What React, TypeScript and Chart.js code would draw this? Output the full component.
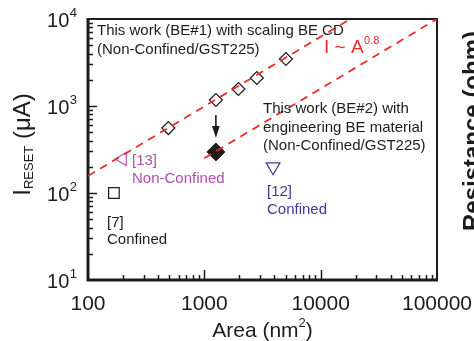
import React, { useEffect, useRef } from 'react';
import { Chart, registerables } from 'chart.js';

Chart.register(...registerables);

// ---- data ----
const beOneArea = [491, 1257, 1963, 2827, 5027];
const beOneCurrent = [558, 1172, 1568, 2098, 3467];
const beTwoArea = [1257];
const beTwoCurrent = [296];
const ref7Area = [167];
const ref7Current = [100];
const ref13Area = [198];
const ref13Current = [246];
const ref12Area = [3900];
const ref12Current = [200];
const fitOneArea = [100, 18000];
const fitOneCurrent = [157, 10000];
const fitTwoArea = [1000, 100000];
const fitTwoCurrent = [251, 10000];
const arrowArea = [1257, 1257];
const arrowCurrent = [790, 430];

const xTickValues = [100, 1000, 10000, 100000];
const xTickLabels = ['100', '1000', '10000', '100000'];
const yTickValues = [10, 100, 1000, 10000];
const yTickExponents = ['1', '2', '3', '4'];
const minorSteps = [2, 3, 4, 5, 6, 7, 8, 9];

const FONT = '"Liberation Sans", Arial, sans-serif';
const BLACK = '#1c1c1c';
const MAGENTA = '#b04eb0';
const NAVY = '#3b3b9a';
const RED = '#ee2b2b';

type Note = { lines: string[]; x: number; y: number; lh: number; color: string };
const notes: Note[] = [
  { lines: ['This work (BE#1) with scaling BE CD', '(Non-Confined/GST225)'], x: 119.5, y: 6548, lh: 19, color: BLACK },
  { lines: ['This work (BE#2) with', 'engineering BE material', '(Non-Confined/GST225)'], x: 3194, y: 820, lh: 18.5, color: BLACK },
  { lines: ['[13]', 'Non-Confined'], x: 239, y: 212.6, lh: 18, color: MAGENTA },
  { lines: ['[7]', 'Confined'], x: 145.7, y: 40.7, lh: 17.5, color: BLACK },
  { lines: ['[12]', 'Confined'], x: 3457, y: 91.2, lh: 18, color: NAVY },
];
const slopeNote = { base: 'I ~ A', exp: '0.8', x: 10684, y: 4064 };

const pts = (xs: number[], ys: number[]) => xs.map((x, i) => ({ x, y: ys[i] }));

// major decade values plus minor positions between them
function tickSet(majors: number[]) {
  const out: { v: number; major: boolean }[] = [];
  majors.forEach((m, i) => {
    out.push({ v: m, major: true });
    if (i < majors.length - 1) minorSteps.forEach((k) => out.push({ v: m * k, major: false }));
  });
  return out;
}

const decor = {
  id: 'decor',
  beforeDatasetsDraw(chart: any) {
    const { ctx, chartArea: a, scales } = chart;
    const xs = scales.x;
    const ys = scales.y;
    ctx.save();
    ctx.strokeStyle = BLACK;
    ctx.lineWidth = 1.5;
    ctx.beginPath();
    tickSet(xTickValues).forEach(({ v, major }) => {
      if (v <= xs.min || v >= xs.max) return;
      const px = Math.round(xs.getPixelForValue(v)) + 0.5;
      const len = major ? 10 : 5;
      ctx.moveTo(px, a.bottom);
      ctx.lineTo(px, a.bottom - len);
    });
    tickSet(yTickValues).forEach(({ v, major }) => {
      if (v <= ys.min || v >= ys.max) return;
      const py = Math.round(ys.getPixelForValue(v)) + 0.5;
      const len = major ? 9 : 5;
      ctx.moveTo(a.left, py);
      ctx.lineTo(a.left + len, py);
    });
    ctx.stroke();
    // frame
    ctx.lineWidth = 2;
    ctx.strokeRect(a.left, a.top, a.right - a.left, a.bottom - a.top);
    ctx.lineWidth = 3;
    ctx.beginPath();
    ctx.moveTo(a.left, a.top - 1);
    ctx.lineTo(a.left, a.bottom);
    ctx.lineTo(a.right + 1, a.bottom);
    ctx.stroke();
    ctx.restore();
  },
  afterDatasetsDraw(chart: any) {
    const { ctx, chartArea: a, scales } = chart;
    const xs = scales.x;
    const ys = scales.y;
    ctx.save();
    ctx.textBaseline = 'alphabetic';

    // arrow
    const ax = xs.getPixelForValue(arrowArea[0]);
    const ay0 = ys.getPixelForValue(arrowCurrent[0]);
    const ax1 = xs.getPixelForValue(arrowArea[1]);
    const ay1 = ys.getPixelForValue(arrowCurrent[1]);
    ctx.strokeStyle = BLACK;
    ctx.fillStyle = BLACK;
    ctx.lineWidth = 1.6;
    ctx.beginPath();
    ctx.moveTo(ax, ay0);
    ctx.lineTo(ax1, ay1 - 8);
    ctx.stroke();
    ctx.beginPath();
    ctx.moveTo(ax1 - 3.8, ay1 - 12);
    ctx.lineTo(ax1 + 3.8, ay1 - 12);
    ctx.lineTo(ax1, ay1);
    ctx.closePath();
    ctx.fill();

    // notes
    ctx.textAlign = 'left';
    ctx.font = `15px ${FONT}`;
    notes.forEach((n) => {
      const px = xs.getPixelForValue(n.x);
      const py = ys.getPixelForValue(n.y);
      ctx.fillStyle = n.color;
      n.lines.forEach((l, i) => ctx.fillText(l, px, py + i * n.lh));
    });

    // slope note
    {
      const px = xs.getPixelForValue(slopeNote.x);
      const py = ys.getPixelForValue(slopeNote.y);
      ctx.fillStyle = RED;
      ctx.font = `19px ${FONT}`;
      ctx.fillText(slopeNote.base, px, py);
      const w = ctx.measureText(slopeNote.base).width;
      ctx.font = `11px ${FONT}`;
      ctx.fillText(slopeNote.exp, px + w + 0.5, py - 9);
    }

    // x tick labels
    ctx.fillStyle = BLACK;
    ctx.textAlign = 'center';
    ctx.font = `21px ${FONT}`;
    xTickValues.forEach((v, i) => {
      ctx.fillText(xTickLabels[i], xs.getPixelForValue(v), a.bottom + 30);
    });

    // y tick labels 10^n
    yTickValues.forEach((v, i) => {
      const py = ys.getPixelForValue(v);
      ctx.textAlign = 'right';
      ctx.font = `13px ${FONT}`;
      const ex = a.left - 11;
      ctx.fillText(yTickExponents[i], ex, py - 2);
      const ew = ctx.measureText(yTickExponents[i]).width;
      ctx.font = `20px ${FONT}`;
      ctx.fillText('10', ex - ew - 0.5, py + 7.5);
    });

    // x title: Area (nm^2)
    {
      const parts = [
        { t: 'Area (nm', f: `21px ${FONT}`, dy: 0 },
        { t: '2', f: `13px ${FONT}`, dy: -10 },
        { t: ')', f: `21px ${FONT}`, dy: 0 },
      ];
      let total = 0;
      const widths = parts.map((p) => {
        ctx.font = p.f;
        const w = ctx.measureText(p.t).width;
        total += w;
        return w;
      });
      let x = (a.left + a.right) / 2 - total / 2;
      ctx.textAlign = 'left';
      parts.forEach((p, i) => {
        ctx.font = p.f;
        ctx.fillText(p.t, x, a.bottom + 57 + p.dy);
        x += widths[i];
      });
    }

    // y title: I_RESET (μA)
    {
      const parts = [
        { t: 'I', f: `24px ${FONT}`, dy: 0 },
        { t: 'RESET', f: `13px ${FONT}`, dy: 3 },
        { t: ' (μA)', f: `24px ${FONT}`, dy: 0 },
      ];
      let total = 0;
      const widths = parts.map((p) => {
        ctx.font = p.f;
        const w = ctx.measureText(p.t).width;
        total += w;
        return w;
      });
      ctx.save();
      ctx.translate(30, (a.top + a.bottom) / 2 - 5);
      ctx.rotate(-Math.PI / 2);
      ctx.textAlign = 'left';
      let x = -total / 2;
      parts.forEach((p, i) => {
        ctx.font = p.f;
        ctx.fillText(p.t, x, p.dy);
        x += widths[i];
      });
      ctx.restore();
    }

    // neighbouring panel's axis title (cut off at the edge)
    ctx.save();
    ctx.translate(480, 131);
    ctx.rotate(-Math.PI / 2);
    ctx.textAlign = 'center';
    ctx.font = `bold 24px ${FONT}`;
    ctx.fillStyle = BLACK;
    ctx.fillText('Resistance (ohm)', 0, 0);
    ctx.restore();

    ctx.restore();
  },
};

export default function App() {
  const ref = useRef<HTMLCanvasElement | null>(null);
  useEffect(() => {
    document.body.style.margin = '0';
    if (!ref.current) return;
    const chart = new Chart(ref.current, {
      type: 'scatter',
      data: {
        datasets: [
          {
            label: 'fit1',
            data: pts(fitOneArea, fitOneCurrent),
            showLine: true,
            borderColor: RED,
            borderWidth: 1.8,
            borderDash: [8, 6],
            pointRadius: 0,
            order: 0,
          },
          {
            label: 'fit2',
            data: pts(fitTwoArea, fitTwoCurrent),
            showLine: true,
            borderColor: RED,
            borderWidth: 1.8,
            borderDash: [8, 6],
            pointRadius: 0,
            order: 0,
          },
          {
            label: 'BE#1',
            data: pts(beOneArea, beOneCurrent),
            pointStyle: 'rectRot',
            pointRadius: 6.5,
            borderColor: BLACK,
            borderWidth: 1.2,
            backgroundColor: 'rgba(0,0,0,0)',
            order: 1,
          },
          {
            label: 'BE#2',
            data: pts(beTwoArea, beTwoCurrent),
            pointStyle: 'rectRot',
            pointRadius: 9,
            borderColor: BLACK,
            borderWidth: 1,
            backgroundColor: BLACK,
            order: 1,
          },
          {
            label: '[7]',
            data: pts(ref7Area, ref7Current),
            pointStyle: 'rect',
            pointRadius: 7.5,
            borderColor: BLACK,
            borderWidth: 1.2,
            backgroundColor: 'rgba(0,0,0,0)',
            order: 1,
          },
          {
            label: '[13]',
            data: pts(ref13Area, ref13Current),
            pointStyle: 'triangle',
            rotation: -90,
            pointRadius: 7.5,
            borderColor: MAGENTA,
            borderWidth: 1.2,
            backgroundColor: 'rgba(0,0,0,0)',
            order: 1,
          },
          {
            label: '[12]',
            data: pts(ref12Area, ref12Current),
            pointStyle: 'triangle',
            rotation: 180,
            pointRadius: 8,
            borderColor: NAVY,
            borderWidth: 1.2,
            backgroundColor: 'rgba(0,0,0,0)',
            order: 1,
          },
        ],
      },
      options: {
        animation: false,
        responsive: false,
        layout: { padding: { left: 88, right: 37, top: 19, bottom: 61 } },
        plugins: { legend: { display: false }, tooltip: { enabled: false } },
        scales: {
          x: { type: 'logarithmic', min: 100, max: 100000, display: false },
          y: { type: 'logarithmic', min: 10, max: 10000, display: false },
        },
      },
      plugins: [decor],
    } as any);
    return () => chart.destroy();
  }, []);
  return (
    <div style={{ position: 'absolute', left: 0, top: 0, width: 474, height: 341 }}>
      <canvas ref={ref} width={474} height={341} style={{ display: 'block' }} />
    </div>
  );
}
